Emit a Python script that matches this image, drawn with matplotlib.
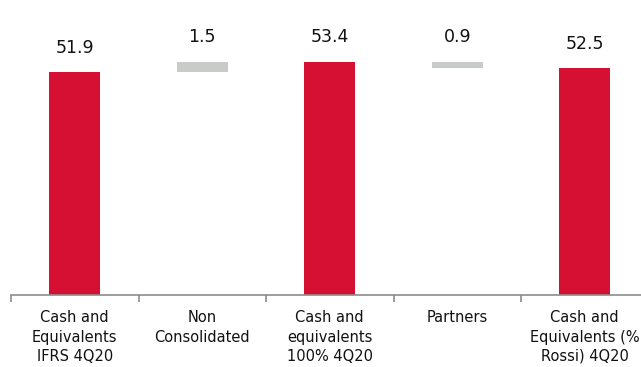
"""
Waterfall chart: cash and equivalents bridge
"""

import numpy as np
import matplotlib.pyplot as plt

categories = ["Cash and\nEquivalents\nIFRS 4Q20", "Non\nConsolidated",
              "Cash and\nequivalents\n100% 4Q20", "Partners",
              "Cash and\nEquivalents (%\nRossi) 4Q20"]
values = [51.9, 1.5, 53.4, -0.9, 52.5]
is_total = [True, False, True, False, True]

RED = "#D51033"
GRAY = "#C8CCC9"


def waterfall_positions(values, is_total, base):
    """bottoms and heights for each bar (totals start at the axis base)"""
    bottoms, heights = [], []
    running = 0.0
    for v, tot in zip(values, is_total):
        if tot:
            bottoms.append(base)
            heights.append(v - base)
            running = v
        else:
            lo = min(running, running + v)
            bottoms.append(lo)
            heights.append(abs(v))
            running += v
    return np.array(bottoms), np.array(heights)


y_lo, y_hi = 20.1, 62.2
bottoms, heights = waterfall_positions(values, is_total, y_lo)
x = np.arange(len(categories))
colors = [RED if t else GRAY for t in is_total]

fig = plt.figure(figsize=(6.41, 3.67), dpi=100)
ax = fig.add_axes([11 / 641, 1 - 295 / 367, 637.5 / 641, 295 / 367])

ax.bar(x, heights, bottom=bottoms, width=0.4, color=colors)

for xi, b, h, v in zip(x, bottoms, heights, values):
    ax.annotate(f"{abs(v):.1f}", (xi, b + h), xytext=(0, 11),
                textcoords="offset points", ha="center", va="bottom",
                fontsize=12.5, color="#111111")

ax.set_xlim(-0.5, len(categories) - 0.5)
ax.set_ylim(y_lo, y_hi)

for s in ["top", "right", "left"]:
    ax.spines[s].set_visible(False)
ax.spines["bottom"].set_color("#8c8c8c")
ax.spines["bottom"].set_linewidth(1.2)
ax.set_yticks([])

# ticks at category boundaries, labels centred on bars
ax.set_xticks(np.arange(len(categories) + 1) - 0.5)
ax.set_xticklabels([])
ax.tick_params(axis="x", length=5, color="#8c8c8c", width=1.2)
ax.set_xticks(x, minor=True)
ax.set_xticklabels(categories, minor=True, fontsize=10.5, linespacing=1.36,
                   color="#111111")
ax.tick_params(axis="x", which="minor", length=0, pad=11)

fig.savefig("out.png", dpi=100, facecolor="white")
